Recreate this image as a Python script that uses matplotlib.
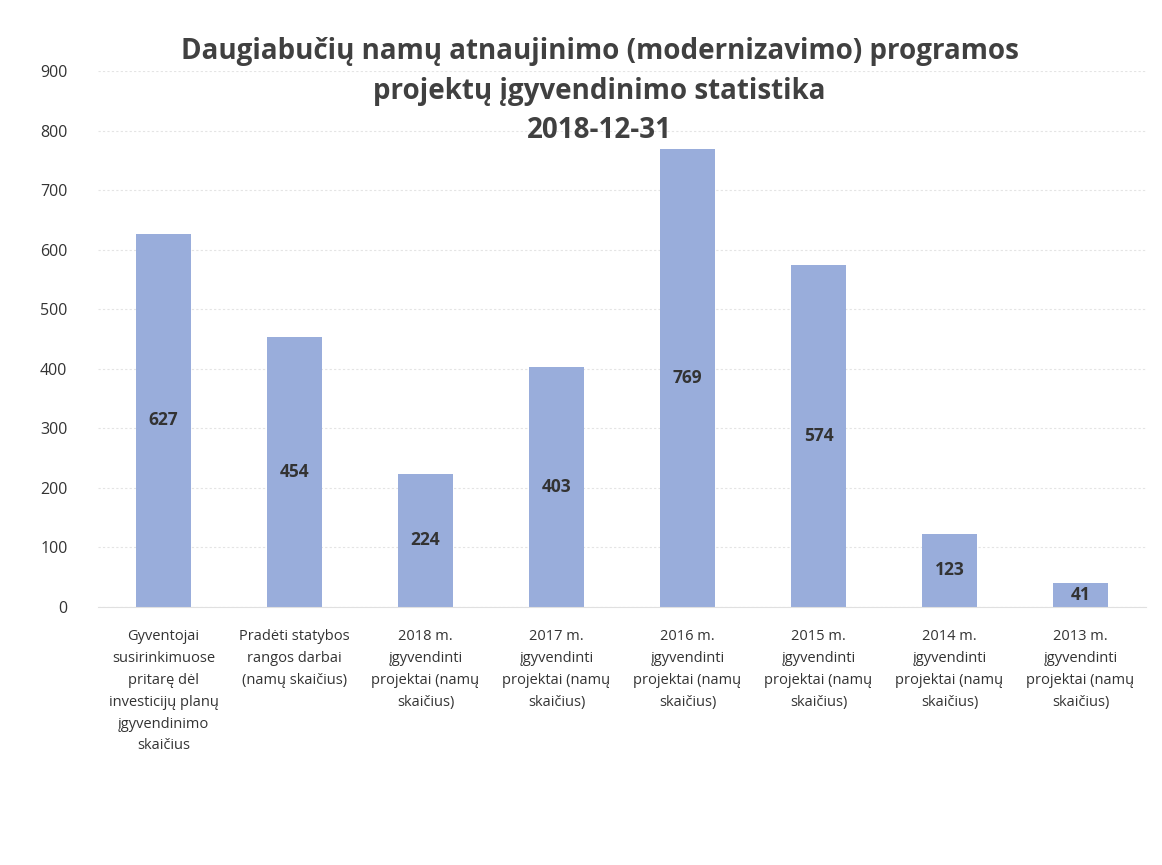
import matplotlib
matplotlib.use("Agg")
import matplotlib.pyplot as plt

categories = [
    "Gyventojai\nsusirinkimuose\npritarę dėl\ninvesticijų planų\nįgyvendinimo\nskaičius",
    "Pradėti statybos\nrangos darbai\n(namų skaičius)",
    "2018 m.\nįgyvendinti\nprojektai (namų\nskaičius)",
    "2017 m.\nįgyvendinti\nprojektai (namų\nskaičius)",
    "2016 m.\nįgyvendinti\nprojektai (namų\nskaičius)",
    "2015 m.\nįgyvendinti\nprojektai (namų\nskaičius)",
    "2014 m.\nįgyvendinti\nprojektai (namų\nskaičius)",
    "2013 m.\nįgyvendinti\nprojektai (namų\nskaičius)",
]
values = [627, 454, 224, 403, 769, 574, 123, 41]
y_ticks = [0, 100, 200, 300, 400, 500, 600, 700, 800, 900]
title = "Daugiabučių namų atnaujinimo (modernizavimo) programos\nprojektų įgyvendinimo statistika\n2018-12-31"

plt.rcParams['font.family'] = ['Open Sans', 'DejaVu Sans']

fig = plt.figure(figsize=(11.62, 8.65), dpi=100)
ax = fig.add_axes([98/1162, 1 - 607/865, (1146-98)/1162, (607-71)/865])

x = list(range(len(values)))
ax.bar(x, values, width=0.42, color='#99ADDB', zorder=2)

for xi, v in zip(x, values):
    ax.text(xi, v / 2, str(v), ha='center', va='center', fontsize=12.5,
            fontweight='bold', color='#333333', zorder=3)

ax.set_xlim(-0.5, len(values) - 0.5)
ax.set_ylim(0, 900)
ax.set_yticks(y_ticks)
ax.set_yticklabels([str(t) for t in y_ticks], fontsize=11.5, color='#333333')
ax.set_xticks(x)
ax.set_xticklabels(categories, fontsize=10.5, color='#333333', linespacing=1.62)
ax.tick_params(axis='both', length=0)
ax.tick_params(axis='y', pad=22)
ax.tick_params(axis='x', pad=16)

ax.grid(axis='y', color='#e4e4e4', linewidth=0.8, linestyle=(0, (2, 2)), zorder=0)
for s in ['top', 'right', 'left']:
    ax.spines[s].set_visible(False)
ax.spines['bottom'].set_color('#e0e0e0')
ax.spines['bottom'].set_linewidth(0.8)

fig.text(0.516, 1 - 91/865, title, ha='center', va='center', fontsize=20,
         fontweight='bold', color='#404040', linespacing=1.5)

fig.savefig("out.png", dpi=100)
